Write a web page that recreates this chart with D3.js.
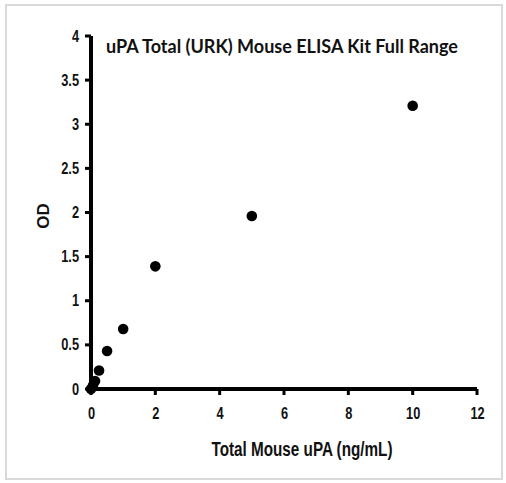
<!DOCTYPE html>
<html>
<head>
<meta charset="utf-8">
<script src="https://cdn.jsdelivr.net/npm/d3@7"></script>
<style>
  body { margin: 0; background: #fff; }
</style>
</head>
<body>
<div id="chart"></div>
<script>
var width = 506, height = 483

// data
var conc = [0, 0.0625, 0.125, 0.25, 0.5, 1, 2, 5, 10]
var od = [0.0, 0.04, 0.09, 0.21, 0.43, 0.68, 1.39, 1.96, 3.21]
var xTicks = [0, 2, 4, 6, 8, 10, 12]
var yTicks = [0, 0.5, 1, 1.5, 2, 2.5, 3, 3.5, 4]

var svg = d3.select('#chart')
    .append("svg")
    .attr("width", width)
    .attr("height", height)

// light frame round the picture
svg.append("rect")
    .attr("x", 6).attr("y", 5)
    .attr("width", 496).attr("height", 474)
    .attr("fill", "none")
    .attr("stroke", "#d9d9d9")
    .attr("stroke-width", 2)

var x = d3.scaleLinear().domain([0, 12]).range([91, 477])
var y = d3.scaleLinear().domain([0, 4]).range([389, 36])

var xAxis = svg.append("g")
    .attr("transform", "translate(0," + y(0) + ")")
    .call(d3.axisBottom(x).tickValues(xTicks).tickSize(6).tickPadding(8).tickSizeOuter(0).tickFormat(d3.format("d")))
var yAxis = svg.append("g")
    .attr("transform", "translate(" + x(0) + ",0)")
    .call(d3.axisLeft(y).tickValues(yTicks).tickSize(6).tickPadding(6).tickSizeOuter(0).tickFormat(function(d) { return d }))

// thick axis lines, drawn as filled bars
svg.selectAll(".domain").remove()
svg.selectAll(".tick line").remove()
svg.append("rect")
    .attr("x", x(0) - 2).attr("y", y(4))
    .attr("width", 4).attr("height", y(0) - y(4) + 2)
    .attr("fill", "#000")
svg.append("rect")
    .attr("x", x(0) - 2).attr("y", y(0) - 2)
    .attr("width", x(12) - x(0) + 2).attr("height", 4)
    .attr("fill", "#000")
svg.append("g").selectAll("rect")
    .data(xTicks)
    .enter().append("rect")
    .attr("x", function(d) { return x(d) - 1.5 })
    .attr("y", y(0))
    .attr("width", 3).attr("height", 6)
    .attr("fill", "#000")
svg.append("g").selectAll("rect")
    .data(yTicks)
    .enter().append("rect")
    .attr("x", x(0) - 6)
    .attr("y", function(d) { return y(d) - 1.5 })
    .attr("width", 6).attr("height", 3)
    .attr("fill", "#000")

// condensed bold tick labels
svg.selectAll(".tick text")
    .style("font-family", "'Liberation Sans', Arial, sans-serif")
    .style("font-weight", "bold")
    .style("font-size", "16px")
    .style("fill", "#111")
xAxis.selectAll(".tick text").attr("transform", "scale(0.8,1)")
    .attr("dy", "1em")
yAxis.selectAll(".tick text").attr("transform", "scale(0.8,1)")
    .attr("x", -12 / 0.8)

// points
svg.append("g")
    .selectAll("circle")
    .data(conc)
    .enter().append("circle")
    .attr("cx", function(d) { return x(d) })
    .attr("cy", function(d, i) { return y(od[i]) })
    .attr("r", 5.3)
    .attr("fill", "#000")

// title
svg.append("text")
    .attr("x", 106).attr("y", 53)
    .attr("textLength", 352)
    .attr("lengthAdjust", "spacingAndGlyphs")
    .style("font-family", "Lato, 'Open Sans', sans-serif")
    .style("font-size", "19px")
    .style("font-weight", "bold")
    .style("fill", "#111")
    .text("uPA Total (URK) Mouse ELISA Kit Full Range")

// axis titles
svg.append("text")
    .attr("x", 302).attr("y", 456)
    .attr("text-anchor", "middle")
    .attr("textLength", 181)
    .attr("lengthAdjust", "spacingAndGlyphs")
    .style("font-family", "'Liberation Sans', Arial, sans-serif")
    .style("font-weight", "bold")
    .style("font-size", "20px")
    .style("fill", "#111")
    .text("Total Mouse uPA (ng/mL)")

svg.append("text")
    .attr("transform", "translate(49,216) rotate(-90)")
    .attr("text-anchor", "middle")
    .style("font-family", "'Liberation Sans', Arial, sans-serif")
    .style("font-weight", "bold")
    .style("font-size", "17px")
    .style("fill", "#111")
    .text("OD")
</script>
</body>
</html>
